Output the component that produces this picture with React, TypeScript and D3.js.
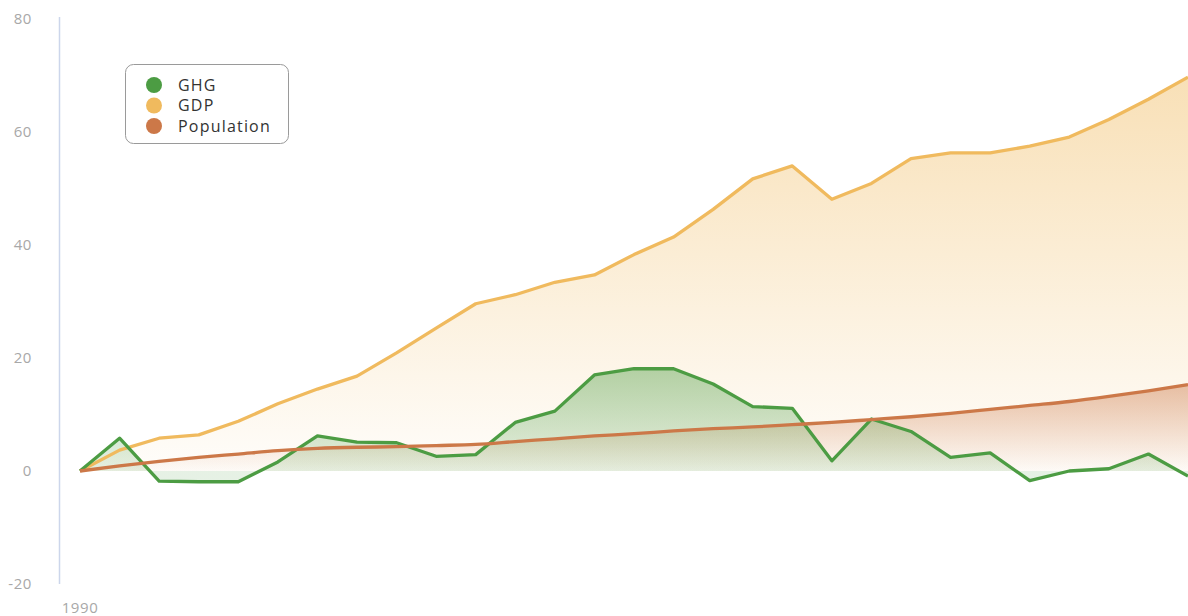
import React from "react";
import * as d3 from "d3";

const years: number[] = d3.range(1990, 2019);
const ghg: number[] = [0, 5.8, -1.8, -1.9, -1.9, 1.6, 6.2, 5.1, 5.0, 2.6, 2.9, 8.6, 10.6, 17.0, 18.1, 18.1, 15.4, 11.4, 11.1, 1.8, 9.2, 7.0, 2.4, 3.2, -1.7, 0.0, 0.4, 3.0, -0.9];
const gdp: number[] = [0, 3.7, 5.8, 6.4, 8.8, 11.9, 14.5, 16.8, 20.9, 25.3, 29.6, 31.2, 33.4, 34.7, 38.3, 41.4, 46.3, 51.7, 54.0, 48.1, 50.9, 55.3, 56.3, 56.3, 57.5, 59.1, 62.2, 65.8, 69.7];
const population: number[] = [0, 0.9, 1.7, 2.4, 3.0, 3.6, 4.0, 4.2, 4.3, 4.5, 4.7, 5.2, 5.7, 6.2, 6.6, 7.1, 7.5, 7.8, 8.2, 8.6, 9.1, 9.6, 10.2, 10.9, 11.6, 12.3, 13.2, 14.2, 15.3];
const yTicks: number[] = [-20, 0, 20, 40, 60, 80];
const xTickLabels: string[] = ["1990"];
const seriesNames: string[] = ["GHG", "GDP", "Population"];
const seriesColors: string[] = ["#4c9c43", "#f0ba5e", "#cc7848"];

const W = 1188;
const H = 616;
const FONT = "'Open Sans', 'DejaVu Sans', sans-serif";

export default function App() {
  const x = d3.scaleLinear().domain([1990, 2018]).range([80, 1188]);
  const y = d3.scaleLinear().domain([-20, 80]).range([584, 19]);

  const lineLinear = (vals: number[]) =>
    d3.line<number>().x((_, i) => x(years[i])).y((d) => y(d))(vals) || "";
  const areaLinear = (vals: number[]) =>
    d3.area<number>().x((_, i) => x(years[i])).y0(y(0)).y1((d) => y(d))(vals) || "";
  const lineSmooth = (vals: number[]) =>
    d3.line<number>().curve(d3.curveMonotoneX).x((_, i) => x(years[i])).y((d) => y(d))(vals) || "";
  const areaSmooth = (vals: number[]) =>
    d3.area<number>().curve(d3.curveMonotoneX).x((_, i) => x(years[i])).y0(y(0)).y1((d) => y(d))(vals) || "";

  return (
    <div style={{ position: "absolute", left: 0, top: 0 }}>
      <svg width={W} height={H} style={{ display: "block", fontFamily: FONT }}>
        <defs>
          <linearGradient id="gGdp" gradientUnits="userSpaceOnUse" x1="0" x2="0" y1={y(d3.max(gdp)!)} y2={y(0)}>
            <stop offset="0" stopColor={seriesColors[1]} stopOpacity={0.45} />
            <stop offset="1" stopColor={seriesColors[1]} stopOpacity={0.03} />
          </linearGradient>
          <linearGradient id="gPop" gradientUnits="userSpaceOnUse" x1="0" x2="0" y1={y(d3.max(population)!)} y2={y(0)}>
            <stop offset="0" stopColor={seriesColors[2]} stopOpacity={0.45} />
            <stop offset="1" stopColor={seriesColors[2]} stopOpacity={0.02} />
          </linearGradient>
          <linearGradient id="gGhg" gradientUnits="userSpaceOnUse" x1="0" x2="0" y1={y(d3.max(ghg)!)} y2={y(0)}>
            <stop offset="0" stopColor={seriesColors[0]} stopOpacity={0.42} />
            <stop offset="1" stopColor={seriesColors[0]} stopOpacity={0.14} />
          </linearGradient>
        </defs>

        <line x1={59.5} x2={59.5} y1={17} y2={584} stroke="#ccd6eb" strokeWidth={1.5} />

        {yTicks.map((t) => (
          <text key={t} x={32} y={y(t)} dy="0.35em" textAnchor="end" fontSize={15} letterSpacing={0.6} fill="#a8a8a8">
            {t}
          </text>
        ))}

        {xTickLabels.map((l) => (
          <text key={l} x={x(+l)} y={613} textAnchor="middle" fontSize={15} letterSpacing={0.6} fill="#a8a8a8">
            {l}
          </text>
        ))}

        <path d={areaLinear(gdp)} fill="url(#gGdp)" />
        <path d={areaSmooth(population)} fill="url(#gPop)" />
        <path d={areaLinear(ghg)} fill="url(#gGhg)" />

        <path d={lineLinear(gdp)} fill="none" stroke={seriesColors[1]} strokeWidth={3.3} strokeLinejoin="round" />
        <path d={lineLinear(ghg)} fill="none" stroke={seriesColors[0]} strokeWidth={3.3} strokeLinejoin="round" />
        <path d={lineSmooth(population)} fill="none" stroke={seriesColors[2]} strokeWidth={3.3} strokeLinejoin="round" />

        <g>
          <rect x={125.5} y={64.5} width={163} height={79} rx={8} ry={8} fill="#ffffff" stroke="#9a9a9a" strokeWidth={1} />
          {seriesNames.map((n, i) => (
            <g key={n} transform={`translate(0, ${85 + i * 20.5})`}>
              <circle cx={154} cy={0} r={8} fill={seriesColors[i]} />
              <text x={178} y={0} dy="0.36em" fontSize={16} letterSpacing={1.2} fill="#333333">
                {n}
              </text>
            </g>
          ))}
        </g>
      </svg>
    </div>
  );
}
